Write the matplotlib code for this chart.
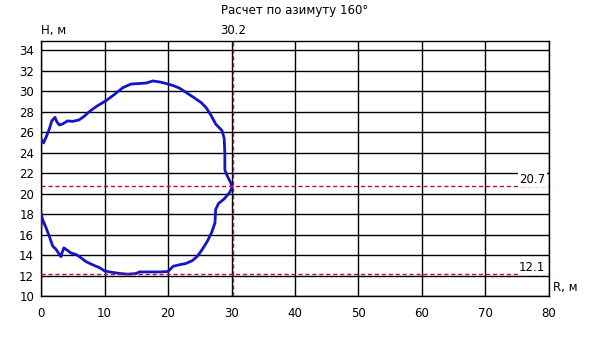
import matplotlib
matplotlib.use('Agg')
from matplotlib import pyplot as plt

# contour R (m), H (m)
r_vals = [0.0, 0.4, 0.8, 1.3, 1.7, 2.2, 2.5, 2.9, 3.4, 4.2, 5.0, 6.0, 6.8, 7.6, 8.7,
          10.3, 11.6, 12.9, 14.2, 15.5, 16.6, 17.6, 18.7, 19.7, 20.8, 21.8, 22.8,
          23.9, 25.2, 26.0, 26.75, 27.5, 28.5, 28.85, 28.95, 28.95, 29.37, 29.9,
          30.1, 29.74, 28.85, 27.95, 27.5, 27.4, 26.85, 26.2, 25.4, 24.65, 23.85,
          22.8, 21.8, 20.8, 20.0, 18.7, 17.1, 15.5, 15.0, 13.7, 12.4, 10.8, 10.0,
          9.2, 8.2, 7.1, 6.05, 5.5, 4.7, 3.95, 3.6, 3.3, 3.15, 2.9, 2.37, 1.84,
          1.3, 0.8, 0.26, 0.0, 0.0]
h_vals = [25.35, 24.95, 25.5, 26.3, 27.1, 27.45, 27.0, 26.7, 26.8, 27.1, 27.05, 27.2,
          27.55, 28.0, 28.5, 29.1, 29.7, 30.35, 30.7, 30.75, 30.8, 31.0, 30.9,
          30.75, 30.55, 30.3, 29.9, 29.45, 28.9, 28.4, 27.67, 26.8, 26.15, 25.4,
          23.9, 22.3, 21.68, 21.04, 20.65, 20.13, 19.48, 19.03, 18.45, 17.15,
          16.17, 15.35, 14.55, 13.9, 13.46, 13.17, 13.05, 12.9, 12.39, 12.35,
          12.35, 12.35, 12.2, 12.13, 12.2, 12.35, 12.45, 12.77, 13.03, 13.35,
          13.84, 14.06, 14.2, 14.55, 14.7, 14.2, 13.84, 14.06, 14.55, 14.87,
          15.84, 16.65, 17.45, 18.1, 16.8]

r_mark = 30.2
h_marks = [20.7, 12.1]

x_ticks = list(range(0, 81, 10))
y_ticks = list(range(10, 35, 2))

fig = plt.figure(figsize=(5.9, 3.37), dpi=100)
ax = fig.add_axes([0.0695, 0.1217, 0.861, 0.7566])

ax.set_xlim(0, 80)
ax.set_ylim(10, 34.9)
ax.set_xticks(x_ticks)
ax.set_yticks(y_ticks)
ax.tick_params(length=0, labelsize=8.5, pad=5)
ax.tick_params(axis='x', pad=8)
ax.grid(True, color='black', linewidth=1)
ax.set_axisbelow(True)
for s in ax.spines.values():
    s.set_color('black')
    s.set_linewidth(1)

ax.plot(r_vals, h_vals, color='#1414c8', linewidth=2, zorder=3)

red = '#b8103c'
ax.axvline(r_mark, color=red, linestyle=(0, (3, 2)), linewidth=1, zorder=4)
for h in h_marks:
    ax.axhline(h, color=red, linestyle=(0, (3, 2)), linewidth=1, zorder=4)
    ax.text(79.4, h + 0.72, f'{h}', ha='right', va='center', fontsize=8.5,
            zorder=5, bbox=dict(facecolor='white', edgecolor='none', pad=1))

ax.text(r_mark, 1.015, f'{r_mark}', transform=ax.get_xaxis_transform(),
        ha='center', va='bottom', fontsize=8.5)
ax.text(0.0, 1.015, 'H, м', transform=ax.transAxes, ha='left', va='bottom',
        fontsize=8.5)
ax.text(1.008, 0.035, 'R, м', transform=ax.transAxes, ha='left', va='center',
        fontsize=8.5)
fig.text(0.5, 0.97, 'Расчет по азимуту 160°', ha='center', va='center',
         fontsize=8.5)

fig.savefig('out.png', dpi=100)
